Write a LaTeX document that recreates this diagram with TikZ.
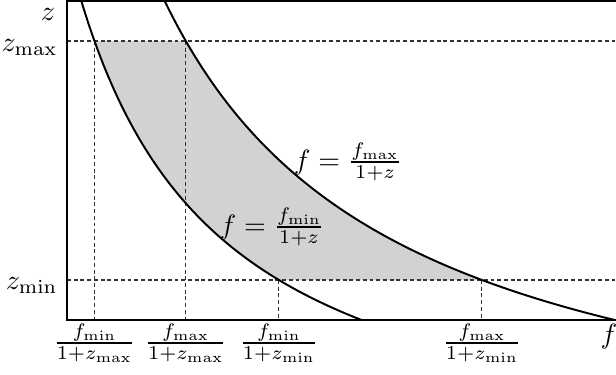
\documentclass[tikz,border=0pt]{standalone}
\usepackage{amsmath}
\usetikzlibrary{calc}
\begin{document}
\begin{tikzpicture}[x=0.357pt,y=-0.357pt,
  axis/.style={line width=0.85pt},
  curve/.style={line width=0.7pt},
  guide/.style={line width=0.38pt, black!80, dash pattern=on 1.4pt off 1pt},
  lab/.style={inner sep=0pt, anchor=base},
  declare function={finn(\y)=-64.9+710/((486.5-\y)/100); fout(\y)=-70.1+1140/((486.5-\y)/100);}]
\useasboundingbox (0,0) rectangle (616,374);
% shaded band
\fill[gray!35] plot[domain=41:280,samples=60] ({finn(\x)},\x) -- plot[domain=280:41,samples=60] ({fout(\x)},\x) -- cycle;
% guides
\coordinate (zmaxL) at (67,41);
\coordinate (zmaxR) at (616,41);
\coordinate (zminL) at (67,280);
\coordinate (zminR) at (616,280);
\draw[guide] (zmaxL) -- (zmaxR);
\draw[guide] (zminL) -- (zminR);
\coordinate (p1) at ({finn(41)},41);
\coordinate (p2) at ({fout(41)},41);
\coordinate (p3) at ({finn(280)},280);
\coordinate (p4) at ({fout(280)},280);
\draw[guide] (p1) -- (p1 |- 0,320);
\draw[guide] (p2) -- (p2 |- 0,320);
\draw[guide] (p3) -- (p3 |- 0,320);
\draw[guide] (p4) -- (p4 |- 0,320);
% curves
\draw[curve] plot[domain=0:320,samples=100] ({finn(\x)},\x);
\draw[curve] plot[domain=0:320,samples=100] ({fout(\x)},\x);
% axes
\coordinate (O) at (67,320);
\coordinate (T) at (67,1);
\coordinate (TR) at (616,1);
\coordinate (BR) at (616,320);
\draw[axis] (TR) -- (T) -- (O) -- (BR);
% labels
\node[lab] (zl) at (48,20) {$z$};
\node[lab, anchor=base east] (zmx) at (58,51) {$z_{\max}$};
\node[lab, anchor=base east] (zmn) at (58,289) {$z_{\min}$};
\node[lab] (fl) at (609,343) {$f$};
\node[lab] (l1) at (p1 |- 0,350) {$\frac{f_{\min}}{1+z_{\max}}$};
\node[lab] (l2) at (p2 |- 0,350) {$\frac{f_{\max}}{1+z_{\max}}$};
\node[lab] (l3) at (p3 |- 0,350) {$\frac{f_{\min}}{1+z_{\min}}$};
\node[lab] (l4) at (p4 |- 0,350) {$\frac{f_{\max}}{1+z_{\min}}$};
\node[lab] (cmax) at (348,169) {$f=\frac{f_{\max}}{1+z}$};
\node[lab] (cmin) at (272,234) {$f=\frac{f_{\min}}{1+z}$};
\end{tikzpicture}
\end{document}
